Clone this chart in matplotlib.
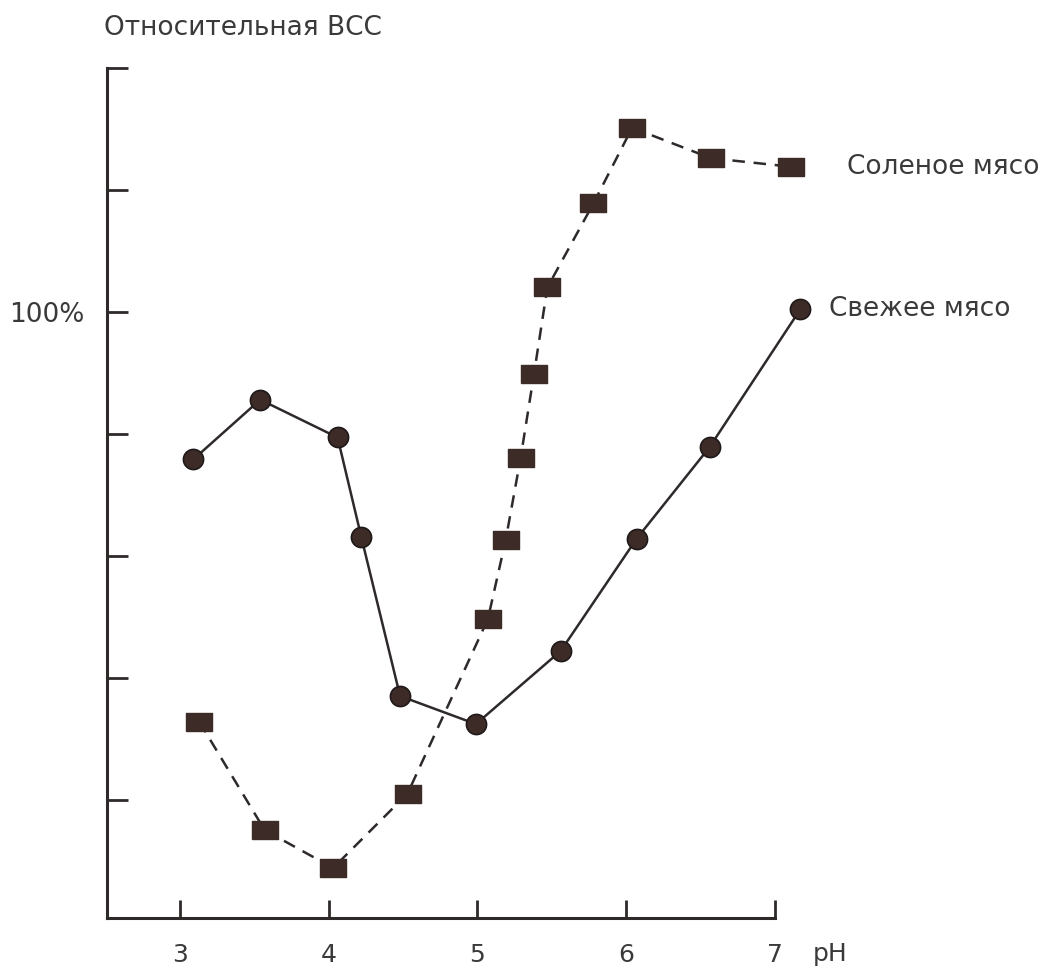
import numpy as np
import matplotlib
matplotlib.use("Agg")
import matplotlib.pyplot as plt

# data (pH, relative WHC in %)
fresh_ph = [3.09, 3.54, 4.06, 4.22, 4.48, 4.99, 5.56, 6.07, 6.56, 7.17]
fresh_val = [87.9, 92.8, 89.7, 81.5, 68.5, 66.2, 72.2, 81.4, 88.9, 100.2]

salt_ph = [3.13, 3.57, 4.03, 4.53, 5.07, 5.19, 5.29, 5.38, 5.47, 5.78, 6.04, 6.57, 7.11]
salt_val = [66.4, 57.5, 54.4, 60.5, 74.8, 81.3, 88.0, 94.9, 102.0, 108.9, 115.1, 112.6, 111.9]

x_ticks = [3, 4, 5, 6, 7]
y_ticks = [60, 70, 80, 90, 100, 110, 120]
y_labels = ["", "", "", "", "100%", "", ""]

ink = "#2e2a29"
mark = "#3d2b27"
txt = "#3a3a3a"

plt.rcParams['font.family'] = ['DejaVu Sans']

fig = plt.figure(figsize=(10.45, 9.71), dpi=100)
ax = fig.add_axes([0.1024, 0.0546, 0.6392, 0.8754])

rect = np.array([[-1.45, -1], [1.45, -1], [1.45, 1], [-1.45, 1], [-1.45, -1]])

ax.plot(fresh_ph, fresh_val, color=ink, lw=1.8, marker='o', ms=14.5,
        mfc=mark, mec="#1f1a19", mew=1.2, clip_on=False, zorder=3)
ax.plot(salt_ph, salt_val, color=ink, lw=1.8, ls=(0, (5, 3.5)), marker=rect, ms=19,
        mfc=mark, mec=mark, clip_on=False, zorder=3)

ax.annotate("Соленое мясо", xy=(salt_ph[-1], salt_val[-1]), xytext=(40, 0),
            textcoords='offset points', va='center', ha='left', fontsize=19,
            color=txt, annotation_clip=False)
ax.annotate("Свежее мясо", xy=(fresh_ph[-1], fresh_val[-1]), xytext=(21, 0),
            textcoords='offset points', va='center', ha='left', fontsize=19,
            color=txt, annotation_clip=False)

ax.set_xlim(2.51, 7.0)
ax.set_ylim(50.3, 120)
ax.set_xticks(x_ticks)
ax.set_xticklabels([str(t) for t in x_ticks])
ax.set_yticks(y_ticks)
ax.set_yticklabels(y_labels)

for s in ['top', 'right']:
    ax.spines[s].set_visible(False)
for s in ['left', 'bottom']:
    ax.spines[s].set_linewidth(2.2)
    ax.spines[s].set_color(ink)

ax.tick_params(axis='x', direction='in', length=13, width=2, color=ink,
               labelsize=18, pad=18, labelcolor=txt)
ax.tick_params(axis='y', direction='in', length=15, width=2, color=ink,
               labelsize=19, pad=16, labelcolor=txt)

fig.text(0.1, 0.971, "Относительная ВСС", fontsize=19, color=txt, va='center', ha='left')
fig.text(0.778, 0.017, "pH", fontsize=18, color=txt, va='center', ha='left')

fig.savefig("out.png", dpi=100, facecolor="white")
